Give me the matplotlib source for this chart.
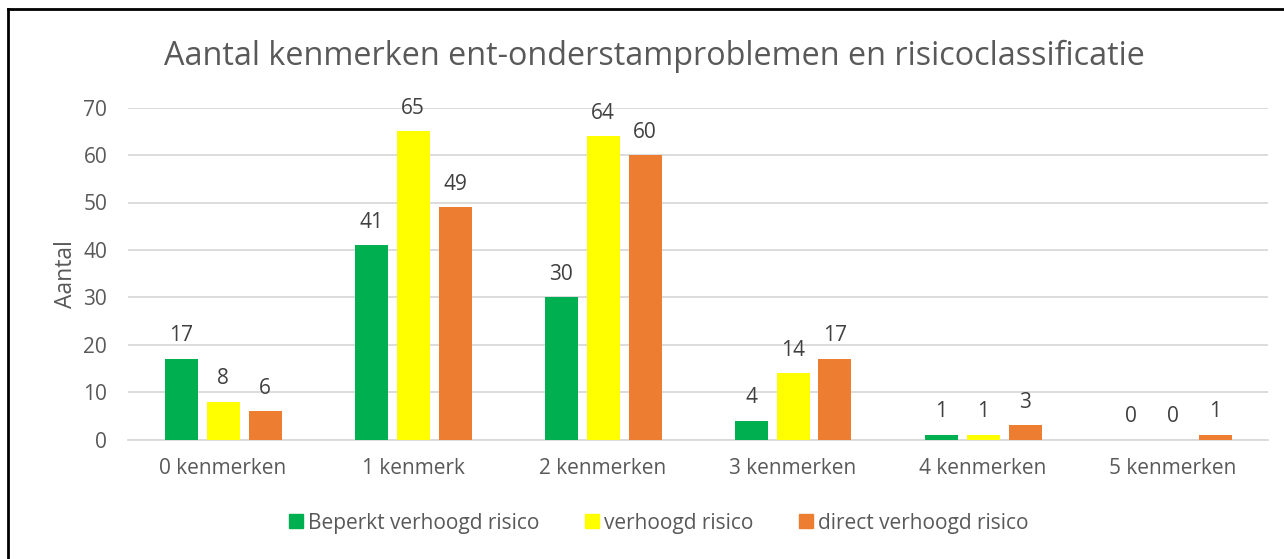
import matplotlib
matplotlib.use("Agg")
import matplotlib.pyplot as plt
import numpy as np
from matplotlib.lines import Line2D

categories = ["0 kenmerken", "1 kenmerk", "2 kenmerken", "3 kenmerken", "4 kenmerken", "5 kenmerken"]
beperkt = [17, 41, 30, 4, 1, 0]
verhoogd = [8, 65, 64, 14, 1, 0]
direct = [6, 49, 60, 17, 3, 1]
series_names = ["Beperkt verhoogd risico", "verhoogd risico", "direct verhoogd risico"]
colors = ["#00B050", "#FFFF00", "#ED7D31"]

plt.rcParams['font.family'] = ['Open Sans', 'DejaVu Sans']
txt = "#595959"

W, H = 1284, 559
fig = plt.figure(figsize=(W/100, H/100), dpi=100)
ax = fig.add_axes([128/W, 1-439.5/H, (1268-128)/W, (439.5-107.7)/H])

x = np.arange(len(categories))
bw = 33/190
step = 42/190
for i, (vals, c, name) in enumerate(zip([beperkt, verhoogd, direct], colors, series_names)):
    xs = x + (i-1)*step
    ax.bar(xs, vals, width=bw, color=c, label=name, zorder=3)
    for xi, v in zip(xs, vals):
        ax.annotate(str(v), (xi, v), xytext=(0, 9), textcoords="offset points",
                    ha="center", va="bottom", fontsize=15, color="#404040")

ax.set_xlim(-0.5, len(categories)-0.5)
ax.set_ylim(0, 70)
ax.set_yticks(range(0, 71, 10))
ax.yaxis.grid(True, color="#D9D9D9", lw=1.3, zorder=0)
ax.set_axisbelow(True)
for s in ["top", "right", "left"]:
    ax.spines[s].set_visible(False)
ax.spines["bottom"].set_color("#D9D9D9")
ax.spines["bottom"].set_linewidth(1.3)
ax.tick_params(axis="both", length=0, labelsize=15, colors=txt)
ax.tick_params(axis="y", pad=15)
ax.tick_params(axis="x", pad=13)
ax.set_xticks(x)
ax.set_xticklabels(categories)
ax.set_ylabel("Aantal", fontsize=16.5, color=txt, labelpad=4)

fig.text(654/W, 1-56/H, "Aantal kenmerken ent-onderstamproblemen en risicoclassificatie",
         ha="center", va="center", fontsize=23.3, color=txt)

handles = [Line2D([], [], marker="s", ls="", color=c, markersize=10.5) for c in colors]
fig.legend(handles, series_names, loc="center", bbox_to_anchor=(657/W, 1-523/H),
           ncol=3, frameon=False, fontsize=15, labelcolor=txt, handletextpad=0.1,
           columnspacing=2.0, handlelength=1.0)

# figure border: top and left lines
fig.add_artist(Line2D([8/W, 1], [1-9/H, 1-9/H], transform=fig.transFigure, color="black", lw=2))
fig.add_artist(Line2D([8/W, 8/W], [0, 1-9/H], transform=fig.transFigure, color="black", lw=2))

fig.savefig("out.png", dpi=100)
